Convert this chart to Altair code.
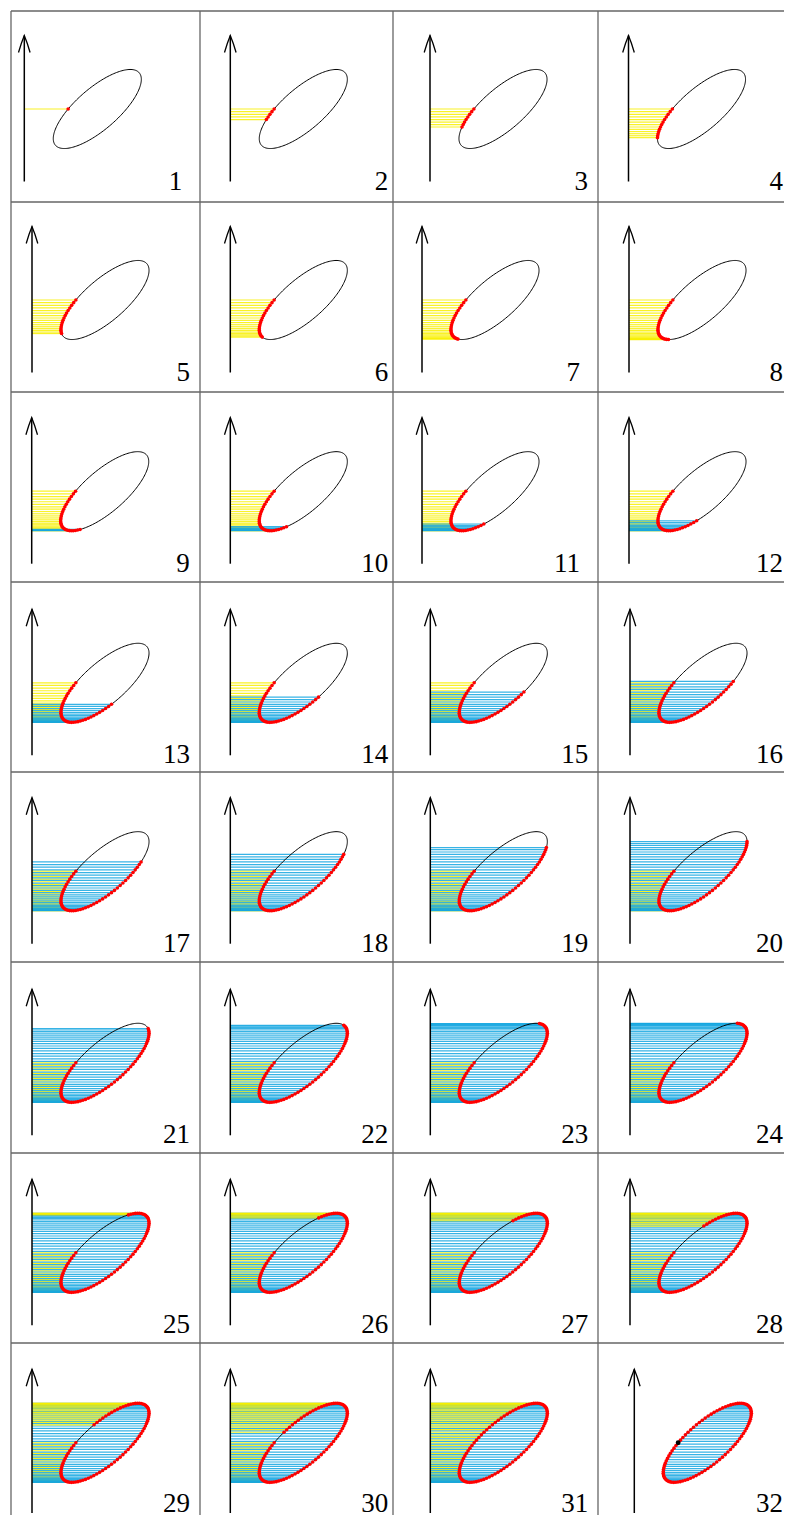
import altair as alt
import numpy as np
import pandas as pd

# ------------------------------------------------------------------ data
frame_labels = [str(k) for k in range(1, 33)]
# number of ellipse sample points already visited in frames 1..31 (frame 32 = result)
points_visited = [1, 5, 8, 13, 16, 19, 22, 24, 28, 31, 33, 35, 39, 42, 44, 48,
                  51, 54, 57, 60, 63, 66, 69, 70, 75, 78, 80, 83, 87, 90, 93]
N_POINTS = 93

# ellipse geometry (pixels, relative to the arrow tip of each panel)
ELL_DX, ELL_DY = 73.0, 73.5
ELL_A, ELL_B = 55.4, 20.8
ELL_ROT = np.radians(40.9)
ARROW_LEN = 146

# ------------------------------------------------------------------ layout
col_left = [10, 199, 392, 597]
col_w = [189, 193, 205, 186]
row_top = [10, 201, 391, 581, 771, 961, 1152, 1342]
row_h = [191, 190, 190, 190, 190, 191, 190, 172]
arrow_x = [
    [23.3, 229.3, 429.0, 627.5],
    [31.0, 229.3, 421.0, 628.0],
    [30.7, 229.3, 421.0, 628.0],
    [31.0, 229.3, 429.3, 629.0],
    [31.0, 229.3, 429.3, 629.0],
    [31.0, 229.3, 429.3, 629.0],
    [31.0, 229.3, 429.3, 629.0],
    [31.0, 229.3, 429.3, 633.3],
]
arrow_top = [34.5, 225.5, 416.7, 608.3, 796.7, 988.3, 1178.3, 1368.3]

YELLOW = "#f8f000"
CYAN = "#14a6e0"
RED = "#ff0000"
BORDER = "#666666"

cR, sR = np.cos(ELL_ROT), np.sin(ELL_ROT)
T0 = np.pi - np.arctan(ELL_A * sR / (ELL_B * cR))  # left point at centre height
DT = 2 * np.pi / N_POINTS


def ell(t, cx, cy):
    ct, st = np.cos(t), np.sin(t)
    x = cx + ELL_A * cR * ct - ELL_B * sR * st
    y = cy - (ELL_A * sR * ct + ELL_B * cR * st)
    return x, y


def descending(t):
    return (-ELL_A * sR * np.sin(t) + ELL_B * cR * np.cos(t)) < 0


def left_x_at(y, cx, cy):
    ym = cy - y
    A2, B2 = ELL_A ** 2, ELL_B ** 2
    qa = cR ** 2 / A2 + sR ** 2 / B2
    qb = 2 * ym * cR * sR / A2 - 2 * ym * sR * cR / B2
    qc = ym ** 2 * sR ** 2 / A2 + ym ** 2 * cR ** 2 / B2 - 1
    disc = max(qb * qb - 4 * qa * qc, 0)
    return cx + (-qb - np.sqrt(disc)) / (2 * qa)


def panel(k, r, c):
    W, H = col_w[c], row_h[r]
    ax = arrow_x[r][c] - col_left[c]
    ay = arrow_top[r] - row_top[r]
    cx, cy = ax + ELL_DX, ay + ELL_DY
    xs = alt.Scale(domain=[0, W], nice=False, zero=False)
    ys = alt.Scale(domain=[0, H], nice=False, zero=False, reverse=True)

    def X(f):
        return alt.X(f, type="quantitative", scale=xs, axis=None)

    def Y(f):
        return alt.Y(f, type="quantitative", scale=ys, axis=None)

    layers = []
    one = pd.DataFrame({"d": [0]})
    layers.append(alt.Chart(one).mark_rule(color=BORDER, strokeWidth=1.3).encode(
        x=alt.value(0), x2=alt.value(W), y=alt.value(0)))
    layers.append(alt.Chart(one).mark_rule(color=BORDER, strokeWidth=1.3).encode(
        x=alt.value(0), y=alt.value(0), y2=alt.value(H)))

    idx = np.arange(N_POINTS)
    t_all = T0 + idx * DT
    final = k == 32

    if not final:
        n = points_visited[k - 1]
        tv = t_all[:n]
        px, py = ell(tv, cx, cy)
        side = np.where(descending(tv), "down", "up")
        lines = pd.DataFrame({"x0": ax, "x1": px, "y": py, "side": side,
                              "o": np.arange(n)})
        layers.append(alt.Chart(lines).mark_rule(strokeWidth=1.2, opacity=0.85).encode(
            x=X("x0"), x2="x1", y=Y("y"),
            color=alt.Color("side:N", scale=alt.Scale(domain=["down", "up"],
                                                      range=[YELLOW, CYAN]), legend=None),
            order="o"))
    else:
        tv = t_all
        px, py = ell(tv, cx, cy)
        asc = ~descending(tv)
        spans = pd.DataFrame({
            "x0": [left_x_at(yy, cx, cy) for yy in py[asc]],
            "x1": px[asc], "y": py[asc]})
        layers.append(alt.Chart(spans).mark_rule(color=CYAN, strokeWidth=1.2, opacity=0.85).encode(
            x=X("x0"), x2="x1", y=Y("y")))

    tf = np.linspace(0, 2 * np.pi, 181)
    ox, oy = ell(tf, cx, cy)
    outline = pd.DataFrame({"x": ox, "y": oy, "o": np.arange(len(tf))})
    layers.append(alt.Chart(outline).mark_line(color="black", strokeWidth=1).encode(
        x=X("x"), y=Y("y"), order="o"))

    rx, ry = ell(tv, cx, cy)
    red = pd.DataFrame({"x": rx, "y": ry})
    layers.append(alt.Chart(red).mark_circle(color=RED, size=13, opacity=1).encode(
        x=X("x"), y=Y("y")))
    if final:
        sx, sy = ell(np.array([T0]), cx, cy)
        layers.append(alt.Chart(pd.DataFrame({"x": sx, "y": sy})).mark_circle(
            color="black", size=24, opacity=1).encode(x=X("x"), y=Y("y")))

    bottom = min(ay + ARROW_LEN, H - 2)
    shaft = pd.DataFrame({"x": [ax], "y": [ay], "y2": [bottom]})
    layers.append(alt.Chart(shaft).mark_rule(color="black", strokeWidth=1.5).encode(
        x=X("x"), y=Y("y"), y2="y2"))
    head = pd.DataFrame({
        "x": [ax - 5.8, ax - 3.0, ax, ax + 3.0, ax + 5.8],
        "y": [ay + 17, ay + 8, ay, ay + 8, ay + 17],
        "o": [0, 1, 2, 3, 4]})
    layers.append(alt.Chart(head).mark_line(color="black", strokeWidth=1.3).encode(
        x=X("x"), y=Y("y"), order="o"))

    base = min(ay + 154, H - 3)
    right = min(ax + 158, W - 1)
    lab = pd.DataFrame({"x": [right], "y": [base], "t": [frame_labels[k - 1]]})
    layers.append(alt.Chart(lab).mark_text(
        align="right", baseline="alphabetic", font="Liberation Serif", fontSize=27,
        color="black").encode(x=X("x"), y=Y("y"), text="t:N"))

    return alt.layer(*layers).properties(width=W, height=H)


cells = [panel(r * 4 + c + 1, r, c) for r in range(8) for c in range(4)]

chart = alt.concat(*cells, columns=4, spacing=0, bounds="flush").properties(
    padding={"left": 2, "top": 2, "right": 0, "bottom": 0},
    background="white",
).configure_view(stroke=None)

chart.save("out.html", embed_options={"renderer": "svg", "actions": False})
